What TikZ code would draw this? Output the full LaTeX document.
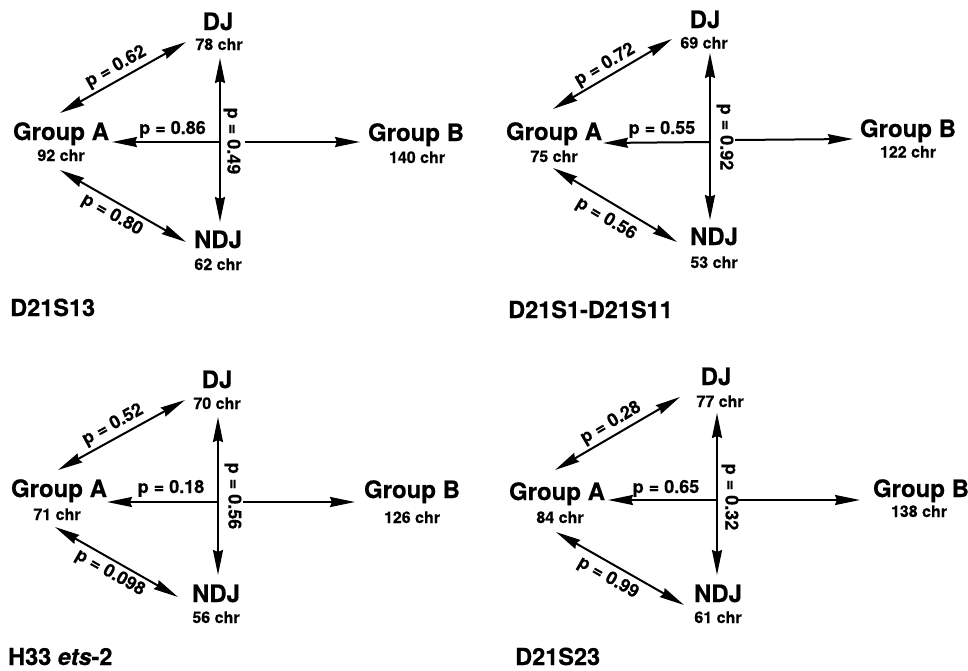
\documentclass[tikz,border=0pt]{standalone}
\usepackage{fontspec}
\setmainfont{TeX Gyre Heros}[BoldFeatures={FakeBold=0.5}, BoldItalicFeatures={FakeBold=0.5}]
\usetikzlibrary{arrows.meta}
\tikzset{
  grp/.style={font=\fontsize{24}{28}\selectfont\bfseries, inner sep=0pt, anchor=base},
  cnt/.style={font=\fontsize{16}{19}\selectfont\bfseries, inner sep=0pt, anchor=base},
  pval/.style={font=\fontsize{18}{21}\selectfont\bfseries, inner sep=0pt},
  ttl/.style={font=\fontsize{23.5}{28}\selectfont\bfseries, inner sep=0pt, anchor=base west},
  tip/.tip={Stealth[length=25pt,width=10pt,inset=2pt]},
  twoway/.style={line width=2pt, tip-tip},
  oneway/.style={line width=2pt, -tip},
}
\begin{document}
\begin{tikzpicture}[x=1pt,y=-1pt]
\fill[white] (0,0) rectangle (968,670);
\useasboundingbox (0,0) rectangle (968,670);

% ---------- D21S13 ----------
\node[grp] (dj1) at (218,30) {DJ};
\node[cnt] (dj1n) at (219,50) {78 chr};
\node[grp] (ga1) at (61,140) {Group A};
\node[cnt] (ga1n) at (61,161) {92 chr};
\node[grp] (gb1) at (416,141) {Group B};
\node[cnt] (gb1n) at (417,163) {140 chr};
\node[grp] (nd1) at (218,248) {NDJ};
\node[cnt] (nd1n) at (218,270) {62 chr};
\node[ttl] (t1) at (10,316) {D21S13};
\coordinate (v1t) at (220,58);  \coordinate (v1b) at (220,222);
\coordinate (x1)  at (220,142); \coordinate (h1a) at (112,142);
\coordinate (g1)  at (245,142); \coordinate (h1b) at (360,142);
\coordinate (u1a) at (60,113);  \coordinate (u1d) at (186,42);
\coordinate (l1a) at (60,170);  \coordinate (l1n) at (186,242);
\draw[twoway] (v1t) -- (v1b);
\draw[oneway] (x1) -- (h1a);
\draw[oneway] (g1) -- (h1b);
\draw[twoway] (u1a) -- (u1d);
\draw[twoway] (l1a) -- (l1n);
\node[pval, rotate=29.4] (p1a) at (116,67) {p = 0.62};
\node[pval, anchor=base] (p1b) at (172.5,134) {p = 0.86};
\node[pval, rotate=-29.7] (p1c) at (112,215) {p = 0.80};
\node[pval, rotate=-90] (p1d) at (232,141) {p = 0.49};

% ---------- D21S1-D21S11 ----------
\node[grp] (dj2) at (705,28) {DJ};
\node[cnt] (dj2n) at (704,48.5) {69 chr};
\node[grp] (ga2) at (554,140) {Group A};
\node[cnt] (ga2n) at (554,162) {75 chr};
\node[grp] (gb2) at (908,137) {Group B};
\node[cnt] (gb2n) at (908,157.5) {122 chr};
\node[grp] (nd2) at (714,245) {NDJ};
\node[cnt] (nd2n) at (714,268) {53 chr};
\node[ttl] (t2) at (508,318) {D21S1-D21S11};
\coordinate (v2t) at (710,53);  \coordinate (v2b) at (710,220);
\coordinate (x2)  at (710,142); \coordinate (h2a) at (603,143);
\coordinate (g2)  at (735,140); \coordinate (h2b) at (853,139);
\coordinate (u2a) at (553,109); \coordinate (u2d) at (672,39);
\coordinate (l2a) at (553,168); \coordinate (l2n) at (677,242);
\draw[twoway] (v2t) -- (v2b);
\draw[oneway] (x2) -- (h2a);
\draw[oneway] (g2) -- (h2b);
\draw[twoway] (u2a) -- (u2d);
\draw[twoway] (l2a) -- (l2n);
\node[pval, rotate=30.5] (p2a) at (605,65) {p = 0.72};
\node[pval, anchor=base] (p2b) at (662,134) {p = 0.55};
\node[pval, rotate=-30.8] (p2c) at (606,219) {p = 0.56};
\node[pval, rotate=-90] (p2d) at (725,137) {p = 0.92};

% ---------- H33 ets-2 ----------
\node[grp] (dj3) at (217,388) {DJ};
\node[cnt] (dj3n) at (217,409) {70 chr};
\node[grp] (ga3) at (59,497) {Group A};
\node[cnt] (ga3n) at (57,520) {71 chr};
\node[grp] (gb3) at (412,498) {Group B};
\node[cnt] (gb3n) at (412,523) {126 chr};
\node[grp] (nd3) at (216,602) {NDJ};
\node[cnt] (nd3n) at (216,623) {56 chr};
\node[ttl] (t3) at (8,665) {H33 \textit{ets}-2};
\coordinate (v3t) at (218,417); \coordinate (v3b) at (218,575);
\coordinate (x3)  at (218,502); \coordinate (h3a) at (107,502);
\coordinate (g3)  at (243,502); \coordinate (h3b) at (355,502);
\coordinate (u3a) at (58,470);  \coordinate (u3d) at (185,400);
\coordinate (l3a) at (55,527);  \coordinate (l3n) at (178,597);
\draw[twoway] (v3t) -- (v3b);
\draw[oneway] (x3) -- (h3a);
\draw[oneway] (g3) -- (h3b);
\draw[twoway] (u3a) -- (u3d);
\draw[twoway] (l3a) -- (l3n);
\node[pval, rotate=28.9] (p3a) at (113,425) {p = 0.52};
\node[pval, anchor=base] (p3b) at (171,493) {p = 0.18};
\node[pval, rotate=-29.6] (p3c) at (110,573) {p = 0.098};
\node[pval, rotate=-90] (p3d) at (233,496) {p = 0.56};

% ---------- D21S23 ----------
\node[grp] (dj4) at (716,385) {DJ};
\node[cnt] (dj4n) at (720,407) {77 chr};
\node[grp] (ga4) at (557,500) {Group A};
\node[cnt] (ga4n) at (560,523) {84 chr};
\node[grp] (gb4) at (921,497) {Group B};
\node[cnt] (gb4n) at (919,517) {138 chr};
\node[grp] (nd4) at (718,602) {NDJ};
\node[cnt] (nd4n) at (718,623) {61 chr};
\node[ttl] (t4) at (515,665) {D21S23};
\coordinate (v4t) at (717,413); \coordinate (v4b) at (717,575);
\coordinate (x4)  at (717,500); \coordinate (h4a) at (608,500);
\coordinate (g4)  at (738,500); \coordinate (h4b) at (860,500);
\coordinate (u4a) at (555,470); \coordinate (u4d) at (680,397);
\coordinate (l4a) at (556,532); \coordinate (l4n) at (684,605);
\draw[twoway] (v4t) -- (v4b);
\draw[oneway] (x4) -- (h4a);
\draw[oneway] (g4) -- (h4b);
\draw[twoway] (u4a) -- (u4d);
\draw[twoway] (l4a) -- (l4n);
\node[pval, rotate=30.3] (p4a) at (611,423) {p = 0.28};
\node[pval, anchor=base] (p4b) at (666,493) {p = 0.65};
\node[pval, rotate=-29.7] (p4c) at (608,578) {p = 0.99};
\node[pval, rotate=-90] (p4d) at (730,497) {p = 0.32};
\end{tikzpicture}
\end{document}
